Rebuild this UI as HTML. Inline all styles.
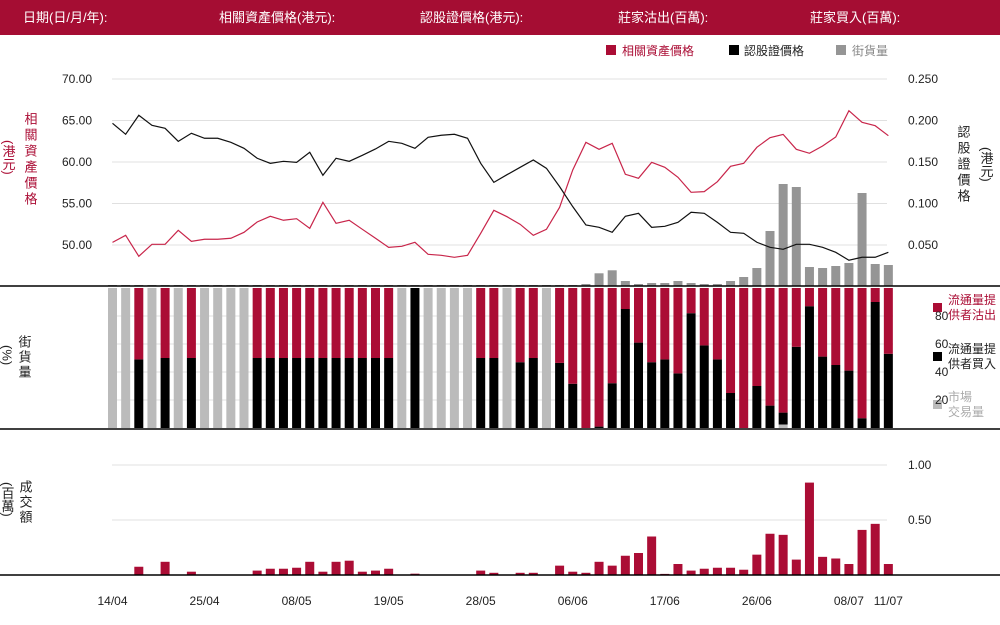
<!DOCTYPE html>
<html><head><meta charset="utf-8"><style>
html,body{margin:0;padding:0;background:#fff;}
body{width:1000px;height:620px;overflow:hidden;font-family:"Liberation Sans","Noto Sans CJK TC",sans-serif;}
svg text{font-family:"Liberation Sans","Noto Sans CJK TC",sans-serif;}
</style></head><body>
<svg id="c" width="1000" height="620" viewBox="0 0 1000 620">
<rect x="0" y="0" width="1000" height="35" fill="#a50d33"/>
<g fill="#fff" font-size="13">
<text x="23" y="22">日期(日/月/年):</text>
<text x="219" y="22">相關資產價格(港元):</text>
<text x="420" y="22">認股證價格(港元):</text>
<text x="618" y="22">莊家沽出(百萬):</text>
<text x="810" y="22">莊家買入(百萬):</text>
</g>
<g font-size="12">
<rect x="606" y="45" width="10" height="10" fill="#ab0d35"/>
<text x="622" y="55" fill="#ab0d35">相關資產價格</text>
<rect x="729" y="45" width="10" height="10" fill="#000"/>
<text x="744" y="55" fill="#222">認股證價格</text>
<rect x="836" y="45" width="10" height="10" fill="#959595"/>
<text x="852" y="55" fill="#888">街貨量</text>
</g>
<text x="30" y="112" font-size="13" fill="#ab0d35" style="writing-mode:vertical-rl;letter-spacing:3px">相關資產價格</text>
<text x="8" y="140" font-size="13" fill="#ab0d35" style="writing-mode:vertical-rl">(港元)</text>
<text x="963" y="125" font-size="13" fill="#222" style="writing-mode:vertical-rl;letter-spacing:3px">認股證價格</text>
<text x="986" y="147" font-size="13" fill="#222" style="writing-mode:vertical-rl">(港元)</text>
<text x="24" y="335" font-size="13" fill="#222" style="writing-mode:vertical-rl;letter-spacing:2px">街貨量</text>
<text x="7" y="345" font-size="13" fill="#222" style="writing-mode:vertical-rl">(%)</text>
<text x="25" y="480" font-size="13" fill="#222" style="writing-mode:vertical-rl;letter-spacing:2px">成交額</text>
<text x="7" y="482" font-size="13" fill="#222" style="writing-mode:vertical-rl">(百萬)</text>
<g font-size="12">
<rect x="933" y="303" width="9" height="9" fill="#ab0d35"/>
<text x="948" y="304" fill="#ab0d35">流通量提</text>
<text x="948" y="319" fill="#ab0d35">供者沽出</text>
<rect x="933" y="352" width="9" height="9" fill="#000"/>
<text x="948" y="353" fill="#222">流通量提</text>
<text x="948" y="368" fill="#222">供者買入</text>
<rect x="933" y="400" width="9" height="9" fill="#bbb"/>
<text x="948" y="401" fill="#aaa">市場</text>
<text x="948" y="416" fill="#aaa">交易量</text>
</g>
<g id="layer"></g>
</svg>
<script>
const dates=["14/04","25/04","08/05","19/05","28/05","06/06","17/06","26/06","08/07","11/07"];
const dateIdx=[0,7,14,21,28,35,42,49,56,59];
const assetPrice=[50.32,51.17,48.64,50.08,50.08,51.77,50.44,50.69,50.69,50.81,51.53,52.77,53.46,52.98,53.17,52.01,55.14,52.61,52.98,51.89,50.81,49.72,49.84,50.32,48.88,48.76,48.52,48.76,51.41,54.18,53.41,52.49,51.17,51.89,54.54,59.04,62.37,61.53,62.25,58.52,58.04,59.96,59.36,58.16,56.35,56.43,57.63,59.48,59.84,61.77,62.93,63.33,61.53,61.05,61.93,63.01,66.18,64.78,64.37,63.17];
const warrantPrice=[0.1966,0.1834,0.2063,0.1942,0.1906,0.1749,0.1846,0.1786,0.1786,0.1737,0.1665,0.1545,0.1484,0.1508,0.1496,0.1617,0.1340,0.1545,0.1508,0.1581,0.1657,0.1749,0.1725,0.1665,0.1798,0.1822,0.1834,0.1786,0.1484,0.1255,0.1347,0.1436,0.1524,0.1424,0.1203,0.0962,0.0741,0.0713,0.0653,0.0846,0.0882,0.0713,0.0725,0.0773,0.0894,0.0882,0.0773,0.0653,0.0641,0.0533,0.0472,0.0448,0.0508,0.0508,0.0472,0.0412,0.0316,0.0352,0.0352,0.0412];
const outstanding=[1,1,1,1,1,1,1,1,1,1,1,1,1,1,1,1,1,1,1,1,1,1,1,1,1,1,1,1,1,1,1,1,1,1,1,1,2,12.7,15.7,5,2,3,3,5,3,2,2,5,9,18,55,102,99,19,18,20,23,93,22,21];
const mmBuy=[0,0,49,0,50,0,50,0,0,0,0,50,50,50,50,50,50,50,50,50,50,50,0,100,0,0,0,0,50,50,0,47,50,0,46.5,31.6,0,1,32,85,61,47,49,39,82,59,49,25,0,30,16,8.5,58,87,51,45,41,7,90,53];
const marketPct=[100,100,0,100,0,100,0,100,100,100,100,0,0,0,0,0,0,0,0,0,0,0,100,0,100,100,100,100,0,0,100,0,0,100,0,0,0,0,0,0,0,0,0,0,0,0,0,0,0,0,0,2.5,0,0,0,0,0,0,0,0];
const turnover=[0,0,0.075,0,0.12,0,0.03,0,0,0,0,0.04,0.057,0.057,0.066,0.12,0.03,0.12,0.13,0.03,0.04,0.057,0,0.012,0,0,0,0,0.04,0.02,0,0.02,0.02,0,0.085,0.03,0.02,0.12,0.085,0.175,0.2,0.35,0.01,0.1,0.04,0.057,0.066,0.066,0.048,0.185,0.375,0.365,0.14,0.84,0.165,0.15,0.1,0.41,0.465,0.1];
const leftTicks=[50,55,60,65,70];
const rightTicks=[0.05,0.1,0.15,0.2,0.25];
const pctTicks=[20,40,60,80];
const volTicks=[0.5,1.0];

const NS="http://www.w3.org/2000/svg";
const L=document.getElementById('layer');
function mk(tag,a,parent){const e=document.createElementNS(NS,tag);for(const k in a)e.setAttribute(k,a[k]);(parent||L).appendChild(e);return e;}
const n=assetPrice.length;
const xC=i=>112.5+i*(775/(n-1+0.0))*0.0+i*13.15;
const BW=9;
const yL=v=>245-(v-50)*8.3;
const yR=v=>245-(v-0.05)*830;
const yO=v=>286-v*1.0;
const yP=v=>428-v*1.4;
const yV=v=>575-v*110;

// gridlines
leftTicks.forEach(t=>{const y=yL(t);
 let g=mk('line',{x1:112,x2:887,y1:y,y2:y,stroke:'#e0e0e0','stroke-width':1});
 
 let tx=mk('text',{x:92,y:y+4,'text-anchor':'end','font-size':12,fill:'#222'});tx.textContent=t.toFixed(2);
 });
rightTicks.forEach(t=>{const y=yR(t);
 let tx=mk('text',{x:908,y:y+4,'font-size':12,fill:'#222'});tx.textContent=t.toFixed(3);
 });
pctTicks.forEach(t=>{const y=yP(t);
 let g=mk('line',{x1:112,x2:893,y1:y,y2:y,stroke:'#e0e0e0','stroke-width':1});
 
 let tx=mk('text',{x:935,y:y+4,'font-size':12,fill:'#222','text-anchor':'start'});tx.textContent=t;
 });
volTicks.forEach(t=>{const y=yV(t);
 let g=mk('line',{x1:112,x2:887,y1:y,y2:y,stroke:'#e0e0e0','stroke-width':1});
 
 let tx=mk('text',{x:908,y:y+4,'font-size':12,fill:'#222'});tx.textContent=t.toFixed(2);
 });

for(let i=0;i<n;i++){
 const x=xC(i)-BW/2;
 // outstanding bars
 let b=mk('rect',{x:x,y:yO(outstanding[i]),width:BW,height:286-yO(outstanding[i]),fill:'#959595'});
 
 // stacked pct
 const m=marketPct[i],bu=mmBuy[i],se=Math.max(0,100-m-bu);
 let r1=mk('rect',{x:x,y:yP(m),width:BW,height:yP(0)-yP(m),fill:'#bbbbbb'});
 
 let r2=mk('rect',{x:x,y:yP(m+bu),width:BW,height:yP(m)-yP(m+bu),fill:'#000'});
 
 let r3=mk('rect',{x:x,y:yP(m+bu+se),width:BW,height:yP(m+bu)-yP(m+bu+se),fill:'#ab0d35'});
 
 // turnover
 if(turnover[i]>0){let v=mk('rect',{x:x,y:yV(turnover[i]),width:BW,height:575-yV(turnover[i]),fill:'#ab0d35'});
 }
}
let p1=mk('polyline',{points:assetPrice.map((v,i)=>xC(i)+','+yL(v)).join(' '),fill:'none',stroke:'#c8254a','stroke-width':1.2});

let p2=mk('polyline',{points:warrantPrice.map((v,i)=>xC(i)+','+yR(v)).join(' '),fill:'none',stroke:'#111','stroke-width':1.2});

[286,429,575].forEach(y=>{let a=mk('line',{x1:0,x2:1000,y1:y,y2:y,stroke:'#000','stroke-width':1.5});
 });
dates.forEach((d,k)=>{let t=mk('text',{x:xC(dateIdx[k]),y:605,'text-anchor':'middle','font-size':12,fill:'#222'});t.textContent=d;
 });
</script>
</body></html>
